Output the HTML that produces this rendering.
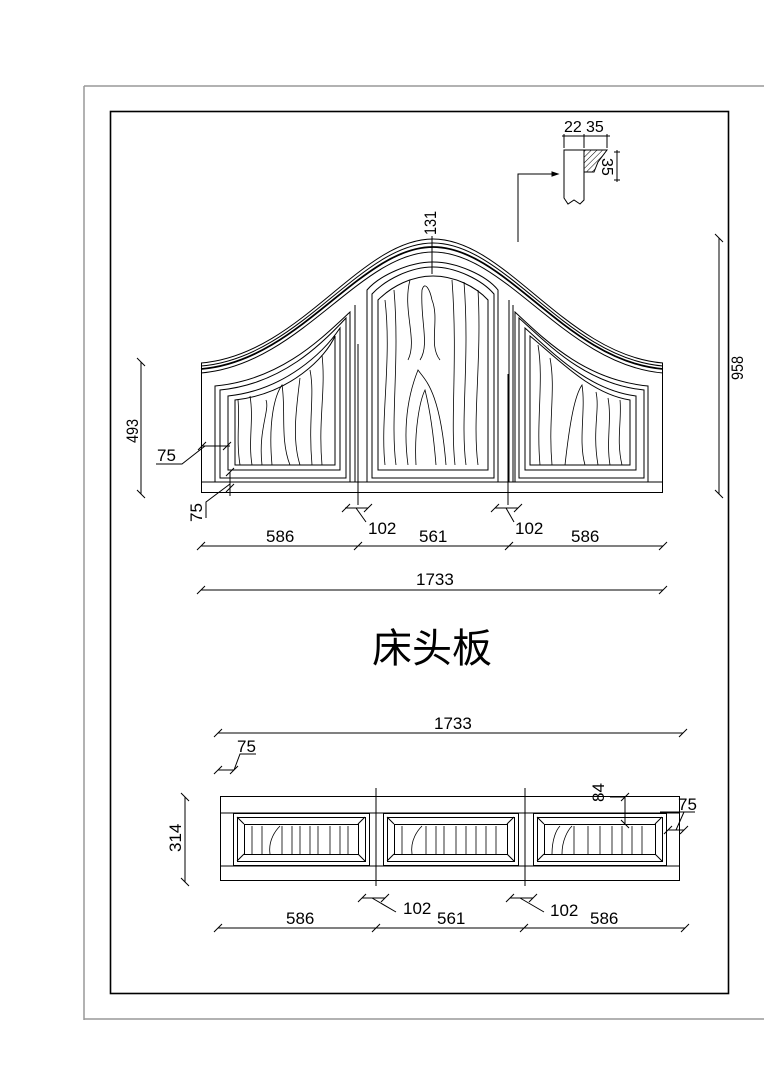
<!DOCTYPE html>
<html><head><meta charset="utf-8"><style>
html,body{margin:0;padding:0;background:#fff;}
svg{display:block;}
text{font-family:"Liberation Sans Narrow","Liberation Sans",sans-serif;fill:#000;}
</style></head><body>
<svg width="764" height="1080" viewBox="0 0 764 1080" xmlns="http://www.w3.org/2000/svg">
<defs>
<pattern id="hatch" width="4" height="4" patternUnits="userSpaceOnUse" patternTransform="rotate(45)">
<line x1="0" y1="0" x2="0" y2="4" stroke="#000" stroke-width="1"/>
</pattern>
</defs>
<g fill="none" stroke="#000" stroke-width="1">
<path d="M84,86 H764 M84,86 V1020 M84,1019 H764" stroke="#999" stroke-width="1.5"/>
<rect x="110.5" y="111.5" width="618" height="882" stroke-width="1.6"/>

<path d="M564,150 V198 L568,204 L574,200 L580,204 L584,200 V150 Z"/>
<path d="M584,150 H607 L598,162 L594,172 H584 Z" fill="url(#hatch)"/>
<path d="M518,242 V174 H552"/>
<path d="M552,172 L558,174 L552,176 Z" fill="#000"/>
<path d="M564,148 V134 M584,148 V134 M607,148 V134 M562,136 H610 M614,152 H620 M614,180 H620 M617,150 V182"/>

<!-- headboard -->
<path d="M201,363 C300,355 360,239 433,239 C506,239 566,355 663,363"/>
<path d="M201,366 C300,358 360,243 433,243 C506,243 566,358 663,366"/>
<path d="M201,369 C300,361 360,247 433,247 C506,247 566,361 663,369" stroke-width="1.8"/>
<path d="M201,373 C300,365 360,252 433,252 C506,252 566,365 663,373"/>
<path d="M201.5,363 V492.5 H662.5 V363"/>
<path d="M201,482 H663"/>
<path d="M215,386 C280,380 320,340 350,312 V482 H215 Z"/>
<path d="M220,390 C282,384 322,344 346,318 V478 H220 Z"/>
<path d="M228,396 C285,390 324,352 340,328 V470 H228 Z"/>
<path d="M235,400 C290,394 326,357 335,336 V465 H235 Z"/>
<path d="M350,312 V482 M355,305 V482"/>
<path d="M367,482 V290 C380,275 410,262 433,262 C456,262 486,275 498,290 V482 Z"/>
<path d="M372,478 V294 C385,280 410,267 433,267 C456,267 482,280 494,294 V478 Z"/>
<path d="M378,470 V300 C392,286 412,276 433,276 C454,276 475,286 488,300 V470 Z"/>
<path d="M498,290 V482 M513,305 V482 M509,300 V482"/>
<path d="M358,344 V505 M508,374 V505"/>
<path d="M515,312 C545,340 585,380 648,386 V482 H515 Z"/>
<path d="M519,318 C548,344 585,384 644,390 V478 H519 Z"/>
<path d="M525,328 C552,352 588,390 636,396 V470 H525 Z"/>
<path d="M530,336 C556,357 590,394 630,400 V465 H530 Z"/>
<g stroke-width="0.8">
<path d="M240,465 C236,440 240,420 238,400 M252,465 C248,440 254,420 250,396 M262,465 C258,430 270,410 266,400 M272,465 C268,420 275,395 282,385 C286,410 280,440 290,465 M300,465 C292,440 296,410 300,378 M312,465 C308,420 315,395 310,370 M322,465 C318,420 326,390 322,355"/>
<path d="M385,465 C380,420 392,360 385,300 M396,465 C390,420 400,360 394,290 M408,465 C402,420 410,390 418,370 C425,380 440,390 446,465 M416,465 C414,430 420,400 425,390 C430,410 434,440 436,465 M420,360 C430,345 420,320 422,290 C425,280 430,290 432,300 C440,320 428,345 440,360 M408,360 C418,340 402,310 410,280 M455,465 C450,420 458,360 452,280 M466,465 C460,420 470,360 464,282 M478,465 C472,420 482,360 478,290"/>
<path d="M540,465 C536,420 544,380 538,345 M552,465 C548,420 556,390 550,358 M565,465 C570,420 575,395 582,385 C586,410 578,440 585,465 M598,465 C592,430 600,410 596,392 M610,465 C606,440 612,420 608,398 M622,465 C616,440 622,420 620,400"/>
</g>

<path d="M141,362 V494 M137,358 L145,366 M137,490 L145,498"/>
<path d="M719,238 V494 M715,234 L723,242 M715,490 L723,498"/>
<path d="M432,236 V274"/>
<path d="M201,546 H663 M197,550 L205,542 M354,550 L362,542 M505,550 L513,542 M659,550 L667,542"/>
<path d="M201,590 H663 M197,594 L205,586 M659,594 L667,586"/>
<path d="M201,446 H230 M198,450 L206,442 M223,450 L231,442 M205,446 L182,464 H156"/>
<path d="M230,472 V496 M226,476 L234,468 M226,492 L234,484 M230,484 L206,502 V518"/>
<path d="M345,508 H368 M342,512 L350,504 M364,512 L372,504 M356,508 L366,522"/>
<path d="M495,508 H518 M491,512 L499,504 M514,512 L522,504 M506,508 L514,522"/>
</g>
<g font-size="17">
<text x="564" y="132" font-size="16" transform="scale(1,1)">22</text><text x="586" y="132" font-size="16">35</text>
<text x="0" y="0" font-size="16" transform="translate(602,158) rotate(90)">35</text>
<text x="0" y="0" transform="translate(138,443) rotate(-90) scale(0.85,1)">493</text>
<text x="0" y="0" transform="translate(743,380) rotate(-90) scale(0.85,1)">958</text>
<text x="0" y="0" transform="translate(436,235) rotate(-90) scale(0.85,1)">131</text>
<text x="157" y="461">75</text>
<text x="0" y="0" transform="translate(202,522) rotate(-90)">75</text>
<text x="368" y="534">102</text>
<text x="515" y="534">102</text>
<text x="266" y="542">586</text>
<text x="419" y="542">561</text>
<text x="571" y="542">586</text>
<text x="416" y="585">1733</text>
</g>
<text x="372" y="662" font-size="40" font-family="'Noto Sans CJK SC',sans-serif">床头板</text>

<g fill="none" stroke="#000" stroke-width="1">
<rect x="220.5" y="796.5" width="459" height="84"/>
<path d="M220,813 H680 M220,866 H680 M376,788 V886 M525,788 V886"/>
<rect x="233.5" y="813.5" width="136" height="52"/>
<rect x="237.5" y="817.5" width="128" height="44"/>
<rect x="244.5" y="824.5" width="114" height="30"/>
<path d="M237,817 L244,824 M365,817 L358,824 M237,861 L244,854 M365,861 L358,854"/>
<rect x="383.5" y="813.5" width="135" height="52"/>
<rect x="387.5" y="817.5" width="127" height="44"/>
<rect x="394.5" y="824.5" width="113" height="30"/>
<path d="M387,817 L394,824 M514,817 L507,824 M387,861 L394,854 M514,861 L507,854"/>
<rect x="533.5" y="813.5" width="133" height="52"/>
<rect x="537.5" y="817.5" width="125" height="44"/>
<rect x="544.5" y="824.5" width="111" height="30"/>
<path d="M537,817 L544,824 M662,817 L655,824 M537,861 L544,854 M662,861 L655,854"/>
<g stroke-width="0.8">
<path d="M252,854 V826 M262,854 V826 M270,854 C268,840 276,830 280,826 M282,854 V826 M292,854 V826 M300,854 V826 M310,854 V826 M318,854 V826 M330,854 V826 M340,854 V826 M348,854 V826"/>
<path d="M402,854 V826 M412,854 C410,840 418,830 422,826 M426,854 V826 M436,854 V826 M444,854 V826 M456,854 V826 M466,854 V826 M476,854 V826 M486,854 V826 M496,854 V826"/>
<path d="M552,854 C552,840 556,830 560,826 M562,854 C562,840 568,830 572,826 M574,854 V826 M588,854 V826 M600,854 V826 M612,854 V826 M622,854 V826 M632,854 V826 M642,854 V826"/>
</g>
<path d="M218,733 H683 M214,737 L222,729 M679,737 L687,729"/>
<path d="M218,770 H234 M214,774 L222,766 M230,774 L238,766 M234,770 L240,754 H256"/>
<path d="M185,797 V882 M181,793 L189,801 M181,878 L189,886"/>
<path d="M610,797 H625 M625,797 V824 M621,801 L629,793 M621,820 L629,828"/>
<path d="M668,830 H684 M664,834 L672,826 M680,834 L688,826 M676,830 L684,812 M660,812 H695"/>
<path d="M218,928 H685 M214,932 L222,924 M372,932 L380,924 M520,932 L528,924 M681,932 L689,924"/>
<path d="M362,898 H385 M358,902 L366,894 M381,902 L389,894 M372,898 L396,912"/>
<path d="M510,898 H533 M506,902 L514,894 M529,902 L537,894 M520,898 L544,912"/>
</g>
<g font-size="17">
<text x="434" y="729">1733</text>
<text x="237" y="752">75</text>
<text x="0" y="0" transform="translate(181,852) rotate(-90)">314</text>
<text x="0" y="0" transform="translate(604,802) rotate(-90)">84</text>
<text x="678" y="810">75</text>
<text x="403" y="914">102</text>
<text x="550" y="916">102</text>
<text x="286" y="924">586</text>
<text x="437" y="924">561</text>
<text x="590" y="924">586</text>
</g>
</svg>
</body></html>
